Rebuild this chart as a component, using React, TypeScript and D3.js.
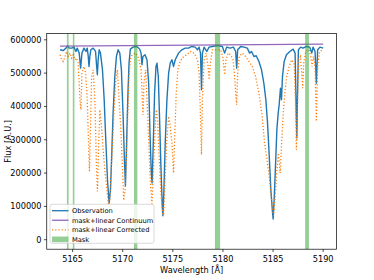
import React from 'react';
import * as d3 from 'd3';

// spectrum: [wavelength, flux]
const observation: [number, number][] = [
  [5163.75, 570000], [5164.07, 568000], [5164.34, 575000], [5164.5, 582000], [5164.67, 575000],
  [5164.9, 575000], [5165.13, 578000], [5165.33, 565000], [5165.46, 575000], [5165.66, 560000],
  [5165.8, 515000], [5165.93, 560000], [5166.13, 575000], [5166.33, 565000], [5166.46, 575000],
  [5166.56, 550000], [5166.64, 520000], [5166.72, 550000], [5166.82, 570000], [5167.05, 575000],
  [5167.29, 565000], [5167.4, 520000], [5167.47, 495000], [5167.55, 540000], [5167.65, 570000],
  [5167.78, 560000], [5167.98, 510000], [5168.15, 420000], [5168.31, 300000], [5168.48, 180000],
  [5168.64, 110000], [5168.78, 150000], [5168.91, 260000], [5169.04, 380000], [5169.21, 490000],
  [5169.37, 550000], [5169.54, 570000], [5169.71, 560000], [5169.87, 510000], [5170.04, 370000],
  [5170.17, 240000], [5170.27, 162000], [5170.37, 270000], [5170.5, 420000], [5170.63, 530000],
  [5170.76, 572000], [5171.03, 578000], [5171.26, 580000], [5171.49, 578000], [5171.69, 572000],
  [5171.83, 560000], [5171.92, 525000], [5172.02, 550000], [5172.22, 555000], [5172.42, 540000],
  [5172.59, 470000], [5172.72, 320000], [5172.85, 200000], [5172.93, 170000], [5173.05, 290000],
  [5173.18, 440000], [5173.32, 520000], [5173.42, 530000], [5173.55, 490000], [5173.68, 360000],
  [5173.81, 220000], [5173.95, 100000], [5174.01, 72000], [5174.11, 150000], [5174.24, 290000],
  [5174.41, 420000], [5174.58, 500000], [5174.74, 530000], [5174.91, 540000], [5175.07, 520000],
  [5175.24, 540000], [5175.57, 560000], [5175.9, 570000], [5176.23, 575000], [5176.56, 575000],
  [5176.89, 580000], [5177.23, 578000], [5177.46, 570000], [5177.62, 578000], [5177.76, 560000],
  [5177.86, 450000], [5177.95, 560000], [5178.12, 578000], [5178.39, 565000], [5178.62, 578000],
  [5178.95, 580000], [5179.28, 582000], [5179.61, 582000], [5179.94, 580000], [5180.17, 560000],
  [5180.37, 578000], [5180.71, 575000], [5181.04, 578000], [5181.27, 565000], [5181.37, 515000],
  [5181.47, 570000], [5181.77, 580000], [5182.1, 578000], [5182.43, 575000], [5182.66, 560000],
  [5182.86, 565000], [5183.09, 550000], [5183.32, 552000], [5183.59, 535000], [5183.85, 510000],
  [5184.08, 470000], [5184.28, 420000], [5184.45, 350000], [5184.62, 250000], [5184.78, 150000],
  [5184.95, 80000], [5185.01, 62000], [5185.11, 120000], [5185.24, 220000], [5185.38, 330000],
  [5185.51, 380000], [5185.61, 405000], [5185.74, 455000], [5185.84, 420000], [5185.94, 490000],
  [5186.11, 535000], [5186.34, 555000], [5186.67, 565000], [5187.0, 572000], [5187.2, 560000],
  [5187.3, 400000], [5187.37, 305000], [5187.43, 420000], [5187.53, 570000], [5187.76, 578000],
  [5187.99, 575000], [5188.33, 580000], [5188.66, 578000], [5188.86, 560000], [5188.99, 578000],
  [5189.19, 565000], [5189.32, 470000], [5189.45, 570000], [5189.68, 578000], [5190.0, 575000],
];

const corrected: [number, number][] = [
  [5163.75, 555000], [5163.91, 540000], [5164.07, 535000], [5164.24, 550000], [5164.4, 565000],
  [5164.57, 550000], [5164.74, 560000], [5164.9, 545000], [5165.07, 555000], [5165.23, 540000],
  [5165.4, 545000], [5165.56, 530000], [5165.73, 420000], [5165.83, 390000], [5165.93, 500000],
  [5166.13, 520000], [5166.3, 500000], [5166.45, 430000], [5166.58, 300000], [5166.68, 205000],
  [5166.78, 330000], [5166.9, 490000], [5167.05, 510000], [5167.22, 420000], [5167.38, 220000],
  [5167.48, 145000], [5167.58, 270000], [5167.72, 390000], [5167.88, 340000], [5168.05, 270000],
  [5168.21, 210000], [5168.38, 160000], [5168.58, 105000], [5168.71, 120000], [5168.84, 200000],
  [5168.98, 290000], [5169.14, 390000], [5169.31, 480000], [5169.47, 510000], [5169.64, 420000],
  [5169.8, 340000], [5169.94, 240000], [5170.1, 118000], [5170.24, 150000], [5170.37, 240000],
  [5170.5, 370000], [5170.63, 490000], [5170.76, 540000], [5170.93, 555000], [5171.26, 560000],
  [5171.59, 545000], [5171.83, 510000], [5171.96, 420000], [5172.02, 375000], [5172.12, 470000],
  [5172.29, 510000], [5172.42, 420000], [5172.59, 300000], [5172.75, 180000], [5172.92, 108000],
  [5173.05, 200000], [5173.22, 320000], [5173.35, 390000], [5173.48, 360000], [5173.65, 240000],
  [5173.81, 140000], [5173.98, 80000], [5174.08, 73000], [5174.21, 170000], [5174.38, 290000],
  [5174.58, 370000], [5174.74, 340000], [5174.91, 290000], [5175.07, 200000], [5175.2, 320000],
  [5175.34, 440000], [5175.5, 510000], [5175.73, 535000], [5176.07, 550000], [5176.4, 555000],
  [5176.73, 565000], [5177.13, 560000], [5177.46, 540000], [5177.62, 500000], [5177.76, 370000],
  [5177.86, 255000], [5177.95, 420000], [5178.12, 540000], [5178.32, 560000], [5178.52, 520000],
  [5178.62, 480000], [5178.75, 530000], [5178.95, 570000], [5179.4, 570000], [5179.78, 570000],
  [5179.98, 550000], [5180.17, 495000], [5180.31, 540000], [5180.51, 560000], [5180.77, 555000],
  [5181.0, 540000], [5181.14, 500000], [5181.27, 440000], [5181.37, 405000], [5181.47, 500000],
  [5181.63, 550000], [5181.93, 560000], [5182.26, 550000], [5182.59, 535000], [5182.93, 520000],
  [5183.26, 490000], [5183.59, 440000], [5183.92, 370000], [5184.15, 290000], [5184.4, 240000],
  [5184.62, 190000], [5184.78, 140000], [5184.95, 90000], [5185.05, 73000], [5185.21, 130000],
  [5185.38, 210000], [5185.54, 260000], [5185.71, 200000], [5185.87, 300000], [5186.04, 390000],
  [5186.21, 450000], [5186.37, 490000], [5186.6, 520000], [5186.87, 540000], [5187.1, 530000],
  [5187.23, 420000], [5187.33, 270000], [5187.43, 400000], [5187.57, 540000], [5187.73, 550000],
  [5187.86, 500000], [5187.96, 455000], [5188.06, 530000], [5188.26, 565000], [5188.59, 570000],
  [5188.76, 550000], [5188.89, 520000], [5189.02, 550000], [5189.19, 520000], [5189.32, 355000],
  [5189.45, 520000], [5189.65, 565000], [5190.0, 570000],
];

const continuum: [number, number][] = [[5163.75, 581000], [5190.0, 587000]];
const maskRanges: [number, number][] = [
  [5164.43, 5164.6], [5165.02, 5165.18], [5171.12, 5171.46], [5179.2, 5179.72], [5188.2, 5188.58],
];
const xTicks = [5165, 5170, 5175, 5180, 5185, 5190];
const yTicks = [0, 100000, 200000, 300000, 400000, 500000, 600000];

const W = 374, H = 280;
const L = 46.75, R = 336.6, T = 33.6, B = 249.2;
const font = 'DejaVu Sans, sans-serif';
const blue = '#1f77b4', orange = '#ff7f0e', purple = '#9467bd', green = '#2ca02c';

export default function App() {
  const x = d3.scaleLinear().domain([5162.42, 5191.34]).range([L, R]);
  const y = d3.scaleLinear().domain([-28500, 618600]).range([B, T]);
  const line = d3.line<[number, number]>().x(d => x(d[0])).y(d => y(d[1]));

  const legendItems = [
    { label: 'Observation', kind: 'solid', color: blue },
    { label: 'mask+linear Continuum', kind: 'solid', color: purple },
    { label: 'mask+linear Corrected', kind: 'dot', color: orange },
    { label: 'Mask', kind: 'patch', color: green },
  ];

  return (
    <svg width={W} height={H} style={{ position: 'absolute', left: 0, top: 0, background: '#fff' }}>
      <defs>
        <clipPath id="plot">
          <rect x={L} y={T} width={R - L} height={B - T} />
        </clipPath>
      </defs>
      <g clipPath="url(#plot)">
        <path d={line(observation) || ''} fill="none" stroke={blue} strokeWidth={1.4} strokeLinejoin="round" />
        <path d={line(continuum) || ''} fill="none" stroke={purple} strokeWidth={1.3} />
        <path d={line(corrected) || ''} fill="none" stroke={orange} strokeWidth={1.3} strokeDasharray="1.2,2" />
        {maskRanges.map((m, i) => (
          <rect key={i} x={x(m[0])} y={T} width={x(m[1]) - x(m[0])} height={B - T} fill={green} fillOpacity={0.5} />
        ))}
      </g>
      <rect x={L} y={T} width={R - L} height={B - T} fill="none" stroke="#000" strokeWidth={0.7} />
      {xTicks.map(t => (
        <g key={t}>
          <line x1={x(t)} x2={x(t)} y1={B} y2={B + 2.8} stroke="#000" strokeWidth={0.7} />
          <text x={x(t)} y={B + 12.3} fontSize={8.2} fontFamily={font} textAnchor="middle">{t}</text>
        </g>
      ))}
      {yTicks.map(t => (
        <g key={t}>
          <line x1={L - 2.8} x2={L} y1={y(t)} y2={y(t)} stroke="#000" strokeWidth={0.7} />
          <text x={L - 5.2} y={y(t) + 3} fontSize={8.2} fontFamily={font} textAnchor="end">{t}</text>
        </g>
      ))}
      <text x={(L + R) / 2} y={273} fontSize={8.2} fontFamily={font} textAnchor="middle">Wavelength [Å]</text>
      <text transform={`translate(10.5, ${(T + B) / 2}) rotate(-90)`} fontSize={8.2} fontFamily={font} textAnchor="middle">Flux [A.U.]</text>
      <g>
        <rect x={50} y={204.3} width={104} height={39} rx={2} fill="#fff" fillOpacity={0.8} stroke="#cccccc" strokeWidth={0.7} />
        {legendItems.map((it, i) => {
          const cy = 210.7 + i * 9.55;
          return (
            <g key={it.label}>
              {it.kind === 'patch' ? (
                <rect x={52} y={cy - 2.8} width={16.5} height={5.6} fill={it.color} fillOpacity={0.5} />
              ) : (
                <line x1={52} x2={68.5} y1={cy} y2={cy} stroke={it.color} strokeWidth={1.3}
                  strokeDasharray={it.kind === 'dot' ? '1.2,2' : undefined} />
              )}
              <text x={72} y={cy + 2.4} fontSize={6.7} fontFamily={font}>{it.label}</text>
            </g>
          );
        })}
      </g>
    </svg>
  );
}
